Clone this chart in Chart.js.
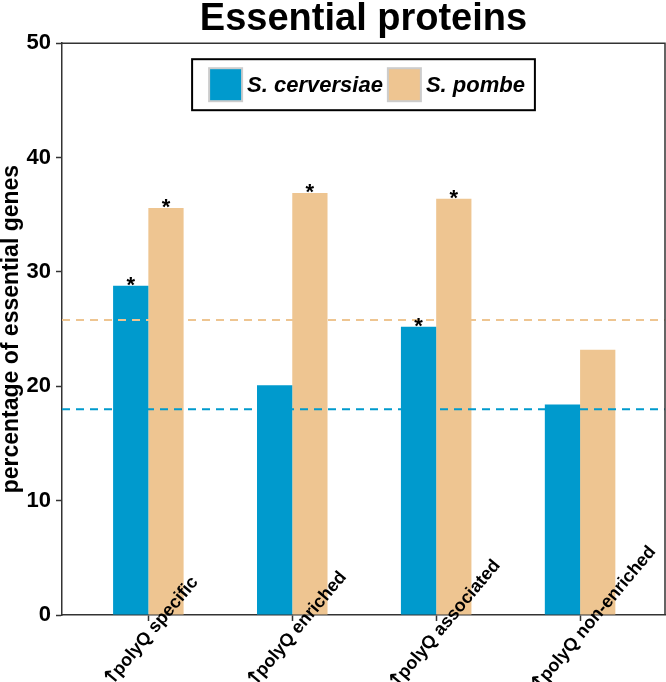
<!DOCTYPE html>
<html>
<head>
<meta charset="utf-8">
<script src="https://cdn.jsdelivr.net/npm/chart.js@4"></script>
<style>
html, body { margin: 0; padding: 0; background: #fff; }
</style>
</head>
<body>
<canvas id="grafico" width="666" height="682"></canvas>
<script>
// dados
const categorias = ['\u2191polyQ specific', '\u2191polyQ enriched', '\u2191polyQ associated', '\u2191polyQ non-enriched'];
const cerevisiae = [28.8, 20.1, 25.2, 18.4];
const pombe = [35.6, 36.9, 36.4, 23.2];
const sigCerevisiae = [true, false, true, false];
const sigPombe = [true, true, true, false];
const baseCerevisiae = 18.0;
const basePombe = 25.8;
const yTicks = [0, 10, 20, 30, 40, 50];

const azul = '#009ACD';
const bege = '#EEC591';
const xMin = -0.6, xMax = 3.59;
const fonte = 'Helvetica, "Liberation Sans", Arial, sans-serif';
Chart.defaults.font.family = fonte;

const pontos = vals => vals.map((v, i) => ({x: i, y: v}));
const linha = v => [{x: xMin, y: v}, {x: xMax, y: v}];

// moldura, asteriscos, rótulos do eixo x e legenda
const extras = {
    id: 'extras',
    afterDraw(chart) {
        const c = chart.ctx;
        const a = chart.chartArea;
        c.save();
        c.strokeStyle = '#333';
        c.lineWidth = 1.5;
        c.beginPath();
        c.moveTo(a.left, a.top);
        c.lineTo(a.right, a.top);
        c.lineTo(a.right, a.bottom);
        c.stroke();

        // asteriscos
        c.fillStyle = '#000';
        c.font = 'bold 22px ' + fonte;
        c.textAlign = 'center';
        c.textBaseline = 'alphabetic';
        chart.data.datasets.forEach((ds, di) => {
            if (!ds.sig) return;
            const meta = chart.getDatasetMeta(di);
            meta.data.forEach((bar, i) => {
                if (ds.sig[i]) c.fillText('*', bar.x, bar.y + 6);
            });
        });

        // rótulos x (seta desenhada com fonte mais pesada)
        const x = chart.scales.x;
        const fSeta = 'bold 20px "DejaVu Sans", sans-serif';
        const fTexto = 'bold 18px ' + fonte;
        c.textBaseline = 'middle';
        c.textAlign = 'left';
        categorias.forEach((lab, i) => {
            const seta = lab.charAt(0), resto = lab.slice(1);
            c.font = fSeta;
            const ws = c.measureText(seta).width - 5;
            c.font = fTexto;
            const wt = c.measureText(resto).width;
            c.save();
            c.translate(x.getPixelForValue(i) - 27, a.bottom + 52);
            c.rotate(-50 * Math.PI / 180);
            const x0 = -0.15 * (ws + wt);
            c.font = fSeta;
            c.fillText(seta, x0 - 2, 0);
            c.font = fTexto;
            c.fillText(resto, x0 + ws, 0);
            c.restore();
        });

        // legenda
        const barras = chart.data.datasets.filter(d => d.type !== 'line');
        c.font = 'italic bold 22px ' + fonte;
        const q = 33, padL = 17, padR = 10, gapT = 5, gapI = 5;
        let w = padL + padR;
        barras.forEach((d, i) => { w += q + gapT + c.measureText(d.label).width + (i ? 0 : gapI); });
        const h = 51;
        const bx = (a.left + a.right) / 2 - w / 2;
        const by = a.top + 16;
        c.fillStyle = '#fff';
        c.fillRect(bx, by, w, h);
        c.strokeStyle = '#000';
        c.lineWidth = 2;
        c.strokeRect(bx, by, w, h);
        let cx = bx + padL;
        c.textAlign = 'left';
        barras.forEach(d => {
            c.fillStyle = d.backgroundColor;
            c.fillRect(cx, by + 9, q, q);
            c.strokeStyle = '#ccc';
            c.lineWidth = 2;
            c.strokeRect(cx, by + 9, q, q);
            cx += q + gapT;
            c.fillStyle = '#000';
            c.fillText(d.label, cx, by + h / 2 + 1);
            cx += c.measureText(d.label).width + gapI;
        });
        c.restore();
    }
};

const ctx = document.getElementById('grafico').getContext('2d');
const grafico = new Chart(ctx, {
    type: 'bar',
    data: {
        datasets: [
            { type: 'line', label: 'base cerevisiae', data: linha(baseCerevisiae), borderColor: azul,
              borderWidth: 2, borderDash: [8, 6], pointRadius: 0, order: 0 },
            { type: 'line', label: 'base pombe', data: linha(basePombe), borderColor: bege,
              borderWidth: 2, borderDash: [8, 6], pointRadius: 0, order: 0 },
            { label: 'S. cerversiae', data: pontos(cerevisiae), backgroundColor: azul, sig: sigCerevisiae, order: 1 },
            { label: 'S. pombe', data: pontos(pombe), backgroundColor: bege, sig: sigPombe, order: 1 }
        ]
    },
    options: {
        responsive: false,
        animation: false,
        layout: { padding: { right: 1, left: 0, top: 0, bottom: 0 } },
        datasets: { bar: { categoryPercentage: 0.49, barPercentage: 1 } },
        scales: {
            x: {
                type: 'linear', min: xMin, max: xMax, offset: false,
                grid: { display: true, offset: false, drawOnChartArea: false, tickLength: 6, color: '#333', tickWidth: 1.5 },
                border: { display: true, color: '#333', width: 1.5 },
                ticks: { display: false },
                afterBuildTicks: s => { s.ticks = categorias.map((_, i) => ({ value: i })); },
                afterFit: s => { s.height = 67; }
            },
            y: {
                min: 0, max: 50,
                grid: { display: true, drawOnChartArea: false, tickLength: 6, color: '#333', tickWidth: 1.5 },
                border: { display: true, color: '#333', width: 1.5 },
                ticks: { color: '#000', padding: 5, font: { size: 22, weight: 'bold' } },
                afterBuildTicks: s => { s.ticks = yTicks.map(v => ({ value: v })); },
                title: { display: true, text: 'percentage of essential genes', color: '#000',
                         font: { size: 23, weight: 'bold', lineHeight: 1.05 }, padding: { top: 0, bottom: 0 } },
                afterFit: s => { s.width = 62; }
            }
        },
        plugins: {
            legend: { display: false },
            tooltip: { enabled: false },
            title: {
                display: true, fullSize: false, text: 'Essential proteins', color: '#000',
                font: { size: 38, weight: 'bold', lineHeight: 0.9 },
                padding: { top: 2, bottom: 7 }
            }
        }
    },
    plugins: [extras]
});
</script>
</body>
</html>
